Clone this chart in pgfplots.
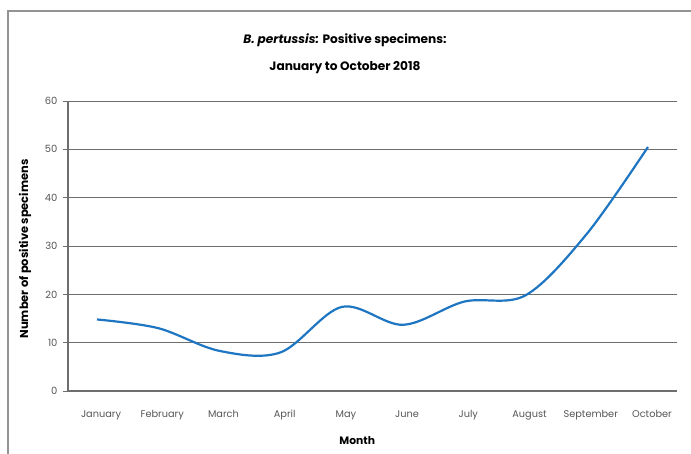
\documentclass[border=0pt]{standalone}
\usepackage{pgfplots}
\pgfplotsset{compat=1.18}
\usepackage{fontspec}
\setmainfont{Poppins}
\definecolor{lineblue}{RGB}{30,118,194}
\definecolor{gridgray}{RGB}{110,110,110}
\definecolor{ticktext}{RGB}{85,85,85}
\begin{document}
\begin{tikzpicture}
\useasboundingbox (0,0) rectangle (691bp,454bp);
% frame (cut at right and bottom as in the source)
\draw[line width=1.5bp,color=gray!85] (8bp,-5bp) -- (8bp,443bp) -- (700bp,443bp);
\node[font=\bfseries\fontsize{12.2}{15}\selectfont] at (345bp,414bp) {\textit{B. pertussis:} Positive specimens:};
\node[font=\bfseries\fontsize{12.2}{15}\selectfont] at (345bp,386bp) {January to October 2018};
\begin{axis}[
  at={(68bp,63bp)}, anchor=south west,
  scale only axis,
  width=609bp, height=290bp,
  xmin=-0.474, xmax=9.474,
  ymin=0, ymax=60,
  ytick={0,10,...,60},
  xtick={0,...,9},
  xticklabels={January,February,March,April,May,June,July,August,September,October},
  axis x line*=bottom, axis y line*=left,
  x axis line style={-,gridgray,line width=1.1bp},
  y axis line style={-,gridgray,line width=1.1bp},
  ymajorgrids,
  grid style={gridgray,line width=1bp},
  major x tick style={draw=none},
  major y tick style={gridgray,line width=1bp},
  tick align=outside,
  major tick length=5bp,
  /pgf/number format/assume math mode=true,
  yticklabel style={font=\fontsize{10}{12}\selectfont,color=ticktext,xshift=-2bp},
  xticklabel style={font=\fontsize{9.8}{12}\selectfont,color=ticktext,yshift=-11bp,xshift=4bp},
  xlabel={Month},
  ylabel={Number of positive specimens},
  xlabel style={font=\bfseries\fontsize{10.8}{12}\selectfont,at={(axis description cs:0.475,-0.172)},anchor=center},
  ylabel style={font=\bfseries\fontsize{11.5}{12}\selectfont,at={(axis description cs:-0.0706,0.49)},anchor=center},
  clip=false,
]
\addplot[lineblue,line width=2.2bp,smooth,tension=0.55] coordinates {
(0,14.8) (1,13.0) (2,8.3) (3,8.0) (4,17.4) (5,13.7) (6,18.5) (7,19.8) (8,32.5) (9,50.5)
};
\end{axis}
\end{tikzpicture}
\end{document}
